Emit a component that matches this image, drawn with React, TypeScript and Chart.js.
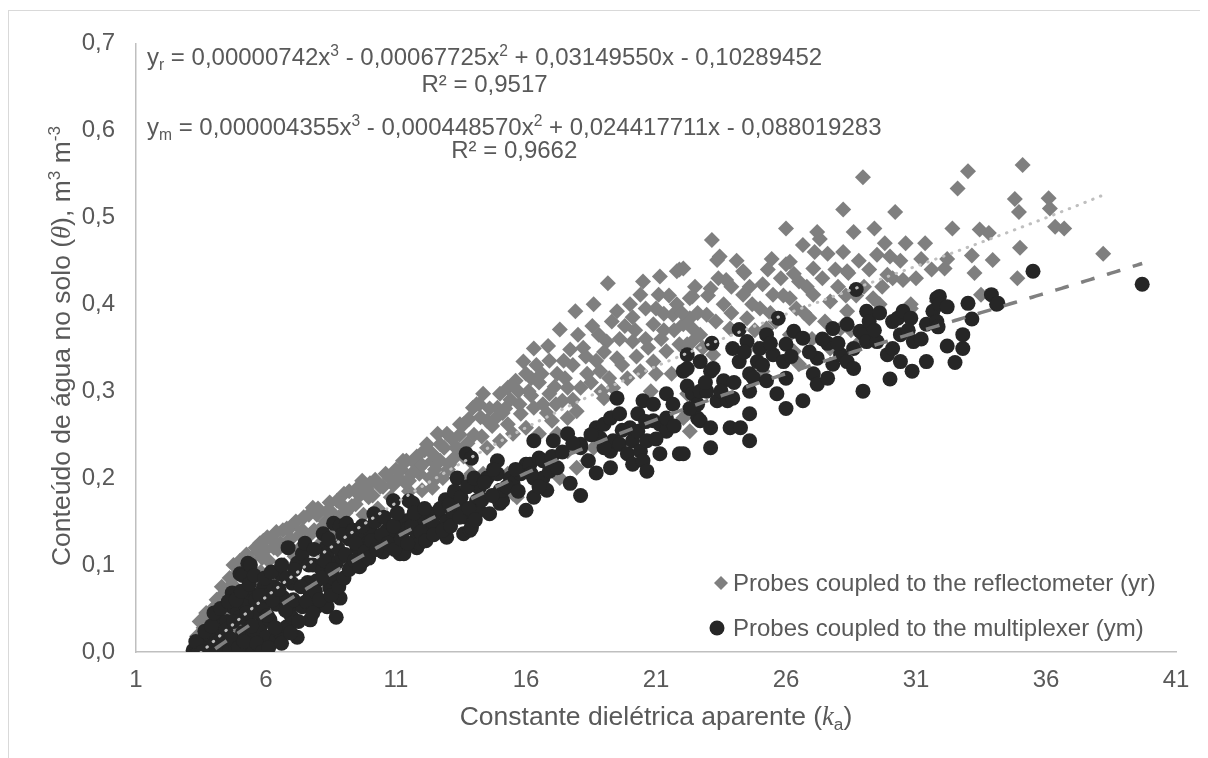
import React, { useEffect, useRef } from 'react';
import { Chart, registerables } from 'chart.js';

Chart.register(...registerables);

const FONT = '"Liberation Sans", Arial, Helvetica, sans-serif';
const MATH_FONT = '"Liberation Serif", "DejaVu Serif", serif';
const TEXT = '#595959';

const xTicks = [1, 6, 11, 16, 21, 26, 31, 36, 41];
const yTicks = [0, 0.1, 0.2, 0.3, 0.4, 0.5, 0.6, 0.7];

// Probes coupled to the reflectometer (yr): [ka, theta]
const reflectometerLow: [number, number][] = [
  [3.25, 0.004], [3.35, 0.018], [3.5, 0.008], [3.6, 0.028], [3.75, 0.015], [3.9, 0.04], [3.96, 0.05],
  [4.05, 0.022], [4.2, 0.058], [4.25, 0.035], [4.4, 0.068], [4.45, 0.012], [4.55, 0.045], [4.7, 0.078],
  [4.8, 0.03], [4.88, 0.09], [4.95, 0.058], [5.1, 0.098], [5.2, 0.07], [5.3, 0.04], [5.4, 0.106],
  [5.5, 0.082], [5.65, 0.005], [5.7, 0.115], [5.77, 0.125], [5.8, 0.092], [5.9, 0.128], [5.95, 0.06],
  [6.1, 0.105], [6.2, 0.13], [6.35, 0.085], [6.45, 0.118], [6.65, 0.14], [6.7, 0.1], [6.85, 0.128],
  [7.0, 0.145], [7.1, 0.11], [7.3, 0.135], [7.45, 0.155], [7.55, 0.12], [7.8, 0.166], [7.85, 0.14],
  [7.96, 0.158], [8.1, 0.125], [8.3, 0.15], [8.45, 0.172], [8.6, 0.135], [8.73, 0.174], [8.8, 0.155],
  [9.0, 0.182], [9.1, 0.145], [9.3, 0.168], [9.5, 0.188], [9.7, 0.197], [9.75, 0.158], [9.95, 0.178],
  [10.0, 0.194], [10.3, 0.165], [10.4, 0.19], [10.6, 0.205], [10.8, 0.178], [11.0, 0.21], [11.27, 0.22],
  [11.35, 0.195], [11.5, 0.185], [11.7, 0.218], [11.9, 0.205], [12.1, 0.232], [12.19, 0.239], [12.3, 0.2],
  [12.6, 0.251], [12.7, 0.22], [12.96, 0.251], [13.0, 0.21], [13.3, 0.235], [13.6, 0.262], [13.6, 0.225],
];
const reflectometerMid: [number, number][] = [
  [11.4, 0.22], [11.5, 0.197], [11.9, 0.212], [12.0, 0.186], [12.4, 0.22], [12.4, 0.189], [12.55, 0.2],
  [12.7, 0.239], [12.8, 0.2], [13.05, 0.216], [13.2, 0.182], [13.35, 0.235], [13.46, 0.262], [13.7, 0.197],
  [13.85, 0.22], [13.9, 0.205], [13.96, 0.281], [14.0, 0.25], [14.1, 0.285], [14.2, 0.285], [14.35, 0.297],
  [14.35, 0.205], [14.5, 0.266], [14.5, 0.235], [14.7, 0.26], [14.9, 0.281], [14.9, 0.174], [15.0, 0.297],
  [15.0, 0.243], [15.2, 0.28], [15.3, 0.304], [15.3, 0.262], [15.3, 0.205], [15.5, 0.251], [15.5, 0.182],
  [15.6, 0.312], [15.65, 0.178], [15.8, 0.274], [15.9, 0.334], [16.0, 0.258], [16.1, 0.3], [16.2, 0.315],
  [16.3, 0.349], [16.3, 0.281], [16.5, 0.251], [16.6, 0.32], [16.65, 0.285], [16.7, 0.22], [16.85, 0.352],
  [16.9, 0.297], [17.0, 0.266], [17.2, 0.251], [17.2, 0.32], [17.3, 0.371], [17.3, 0.2], [17.4, 0.289],
  [17.6, 0.304], [17.6, 0.269], [17.6, 0.231], [17.7, 0.348], [17.8, 0.33], [17.9, 0.392], [17.95, 0.277],
  [17.95, 0.212], [18.1, 0.304], [18.3, 0.34], [18.35, 0.32], [18.35, 0.22], [18.6, 0.4], [18.6, 0.235],
  [18.8, 0.365], [18.85, 0.323], [18.9, 0.3], [19.0, 0.292], [19.1, 0.357], [19.15, 0.424], [19.3, 0.27],
  [19.35, 0.304], [19.5, 0.392], [19.5, 0.338], [19.6, 0.36], [19.9, 0.315], [20.0, 0.4], [20.1, 0.357],
  [20.2, 0.37], [20.4, 0.411], [20.4, 0.323], [20.5, 0.426], [20.7, 0.35], [20.8, 0.3], [20.9, 0.377],
  [20.9, 0.334], [21.1, 0.411], [21.15, 0.432], [21.2, 0.36], [21.3, 0.389], [21.4, 0.346], [21.5, 0.41],
  [21.6, 0.32], [21.65, 0.388], [21.8, 0.438], [21.9, 0.354], [21.9, 0.44], [22.05, 0.441], [22.05, 0.377],
  [22.05, 0.269], [22.3, 0.407], [22.3, 0.254], [22.4, 0.372], [22.4, 0.357],
];
const reflectometerHigh: [number, number][] = [
  [22.2, 0.354], [22.2, 0.297], [22.2, 0.274], [22.3, 0.384], [22.3, 0.297], [22.4, 0.409], [22.7, 0.365],
  [22.95, 0.388], [23.0, 0.41], [23.1, 0.418], [23.15, 0.474], [23.2, 0.342], [23.35, 0.451], [23.45, 0.455],
  [23.6, 0.4], [23.7, 0.428], [23.85, 0.372], [23.9, 0.42], [24.35, 0.438], [24.35, 0.411], [24.4, 0.436],
  [24.5, 0.384], [24.7, 0.4], [24.9, 0.349], [25.0, 0.395], [25.1, 0.423], [25.1, 0.323], [25.25, 0.372],
  [25.45, 0.452], [25.5, 0.411], [25.6, 0.38], [25.8, 0.43], [26.0, 0.487], [26.0, 0.446], [26.15, 0.449],
  [26.15, 0.407], [26.15, 0.365], [26.3, 0.346], [26.4, 0.395], [26.5, 0.426], [26.5, 0.331], [26.65, 0.468],
  [26.8, 0.42], [26.9, 0.384], [27.0, 0.36], [27.05, 0.441], [27.05, 0.411], [27.2, 0.483], [27.3, 0.475],
  [27.4, 0.43], [27.6, 0.458], [27.7, 0.403], [27.7, 0.349], [28.0, 0.42], [28.1, 0.372], [28.2, 0.509],
  [28.2, 0.46], [28.35, 0.438], [28.35, 0.392], [28.4, 0.436], [28.5, 0.37], [28.6, 0.483], [28.7, 0.41],
  [28.85, 0.357], [28.96, 0.546], [29.2, 0.44], [29.35, 0.407], [29.4, 0.487], [29.5, 0.457], [29.6, 0.4],
  [29.8, 0.47], [29.9, 0.434], [30.1, 0.43], [30.2, 0.506], [30.4, 0.45], [30.5, 0.428], [30.8, 0.4],
  [30.8, 0.395], [31.2, 0.452], [31.35, 0.47], [31.8, 0.403], [32.1, 0.441], [32.2, 0.452], [32.4, 0.487],
  [32.6, 0.533], [33.0, 0.553], [33.15, 0.456], [33.25, 0.436], [33.45, 0.486], [33.5, 0.411], [33.8, 0.482],
  [33.95, 0.451], [34.8, 0.521], [34.9, 0.43], [34.96, 0.506], [35.0, 0.465], [35.1, 0.56], [36.1, 0.522],
  [36.15, 0.51], [36.35, 0.489], [36.7, 0.487], [38.2, 0.458],
];
const reflectometerDense: [number, number][] = [
  [3.45, 0.035], [3.7, 0.045], [4.1, 0.06], [4.3, 0.075], [4.6, 0.085], [4.75, 0.1], [5.0, 0.105],
  [5.25, 0.112], [5.35, 0.09], [5.6, 0.12], [5.85, 0.108], [6.0, 0.118], [6.05, 0.132], [6.3, 0.12],
  [6.4, 0.138], [6.55, 0.125], [6.8, 0.142], [6.95, 0.13], [7.15, 0.15], [7.25, 0.118], [7.4, 0.14],
  [7.65, 0.158], [7.7, 0.135], [8.0, 0.165], [8.2, 0.145], [8.35, 0.162], [8.55, 0.16], [8.9, 0.17],
  [9.05, 0.16], [9.2, 0.185], [9.45, 0.17], [9.6, 0.18], [9.85, 0.188], [10.1, 0.18], [10.2, 0.198],
  [10.5, 0.19], [10.75, 0.2], [10.9, 0.192], [11.1, 0.2], [11.2, 0.21], [11.6, 0.205], [11.8, 0.225],
  [12.0, 0.215], [12.4, 0.228], [12.5, 0.21], [12.85, 0.235], [13.15, 0.245], [13.2, 0.222], [13.45, 0.25],
  [13.75, 0.24], [13.8, 0.268], [14.25, 0.27], [14.3, 0.248], [14.6, 0.28], [14.8, 0.268], [15.1, 0.275],
  [15.4, 0.29], [15.7, 0.3], [15.75, 0.285], [16.0, 0.32], [16.2, 0.295], [16.4, 0.33], [16.5, 0.31],
  [16.8, 0.275], [16.9, 0.335], [17.1, 0.305], [17.15, 0.285], [17.45, 0.335], [17.5, 0.315], [17.8, 0.29],
  [18.0, 0.365], [18.2, 0.35], [18.5, 0.31], [18.55, 0.375], [18.7, 0.335], [19.0, 0.345], [19.2, 0.315],
  [19.3, 0.38], [19.7, 0.33], [19.8, 0.375], [20.1, 0.385], [20.25, 0.34], [20.6, 0.395], [20.6, 0.36],
  [21.0, 0.32], [21.0, 0.395], [21.3, 0.37], [21.7, 0.37], [21.8, 0.4], [22.0, 0.39], [22.5, 0.42],
  [22.6, 0.39], [22.8, 0.35], [23.3, 0.38], [23.4, 0.43], [23.9, 0.39], [24.1, 0.45], [24.6, 0.42],
  [24.8, 0.37], [25.3, 0.44], [25.4, 0.39], [25.9, 0.41], [26.3, 0.435], [26.7, 0.39], [27.1, 0.46],
  [27.5, 0.38], [27.9, 0.44], [28.3, 0.41], [28.8, 0.45], [29.0, 0.42], [29.7, 0.42], [30.0, 0.455],
  [30.6, 0.47], [31.0, 0.43], [31.6, 0.44],
];

// Probes coupled to the multiplexer (ym): [ka, theta]
const multiplexerLow: [number, number][] = [
  [3.2, 0.002], [3.35, 0.006], [3.4, 0.0], [3.5, 0.01], [3.6, 0.014], [3.7, 0.004], [3.8, 0.02], [3.85, 0.002],
  [3.96, 0.022], [4.0, 0.008], [4.1, 0.029], [4.1, 0.0], [4.2, 0.037], [4.3, 0.025], [4.35, 0.014], [4.4, 0.004],
  [4.5, 0.035], [4.6, 0.002], [4.7, 0.068], [4.7, 0.052], [4.8, 0.01], [4.9, 0.045], [5.0, 0.04], [5.0, 0.09],
  [5.1, 0.088], [5.1, 0.022], [5.1, 0.0], [5.2, 0.055], [5.3, 0.102], [5.3, 0.035], [5.4, 0.1], [5.4, 0.068],
  [5.5, 0.006], [5.5, 0.02], [5.6, 0.06], [5.7, 0.045], [5.8, 0.03], [5.9, 0.074], [5.9, 0.052], [6.0, 0.017],
  [6.0, 0.065], [6.15, 0.037], [6.3, 0.075], [6.4, 0.014], [6.4, 0.055], [6.55, 0.09], [6.55, 0.022],
  [6.65, 0.063], [6.8, 0.029], [6.85, 0.12], [6.9, 0.045], [7.0, 0.079], [7.0, 0.04], [7.2, 0.102], [7.2, 0.017],
  [7.3, 0.055], [7.4, 0.113], [7.4, 0.052], [7.6, 0.08], [7.7, 0.068], [7.7, 0.037], [7.8, 0.1], [7.95, 0.082],
  [7.95, 0.052], [8.1, 0.097], [8.2, 0.136], [8.3, 0.12], [8.35, 0.113], [8.35, 0.052], [8.45, 0.074],
  [8.6, 0.148], [8.6, 0.085], [8.7, 0.102], [8.7, 0.04], [8.85, 0.145], [8.85, 0.062], [8.9, 0.11], [9.1, 0.148],
  [9.2, 0.13], [9.25, 0.097], [9.5, 0.12], [9.6, 0.135], [9.75, 0.105], [9.9, 0.125], [10.0, 0.14],
  [10.15, 0.159], [10.3, 0.13], [10.4, 0.12], [10.5, 0.115], [10.65, 0.14], [10.8, 0.135], [10.9, 0.174],
  [11.15, 0.151], [11.15, 0.113], [11.3, 0.14], [11.3, 0.113], [11.4, 0.151], [11.5, 0.143], [11.5, 0.174],
  [11.65, 0.171], [11.8, 0.12], [11.8, 0.136], [11.9, 0.151], [11.9, 0.125], [12.05, 0.151], [12.2, 0.145],
  [12.3, 0.159], [12.55, 0.14], [12.55, 0.159], [12.6, 0.143], [12.9, 0.175], [12.95, 0.132], [12.96, 0.151],
  [13.2, 0.159], [13.35, 0.2], [13.35, 0.174], [13.6, 0.166], [13.6, 0.136], [13.7, 0.228], [13.7, 0.155],
  [13.85, 0.14], [13.9, 0.223], [13.9, 0.143],
];
const multiplexerMid: [number, number][] = [
  [14.1, 0.174], [14.2, 0.189], [14.2, 0.163], [14.5, 0.2], [14.6, 0.159], [14.9, 0.205], [14.9, 0.22],
  [15.0, 0.186], [15.0, 0.171], [15.1, 0.174], [15.1, 0.186], [15.4, 0.2], [15.5, 0.194], [15.8, 0.205],
  [16.0, 0.216], [16.0, 0.163], [16.15, 0.216], [16.3, 0.243], [16.3, 0.2], [16.3, 0.178], [16.5, 0.223],
  [16.65, 0.22], [16.65, 0.2], [16.8, 0.186], [16.9, 0.208], [17.05, 0.243], [17.2, 0.212], [17.6, 0.251],
  [17.7, 0.194], [18.1, 0.239], [18.1, 0.235], [18.1, 0.18], [18.7, 0.258], [18.7, 0.206], [18.85, 0.246],
  [19.0, 0.262], [19.25, 0.269], [19.25, 0.212], [19.25, 0.231], [19.35, 0.243], [19.5, 0.292], [19.6, 0.274],
  [19.6, 0.239], [19.9, 0.228], [20.0, 0.258], [20.1, 0.243], [20.1, 0.216], [20.3, 0.274], [20.3, 0.254],
  [20.4, 0.231], [20.5, 0.289], [20.5, 0.22], [20.65, 0.208], [20.65, 0.243], [20.9, 0.285], [20.9, 0.266],
  [21.15, 0.262], [21.15, 0.228], [21.4, 0.297], [21.4, 0.254], [21.4, 0.269], [21.65, 0.285], [21.9, 0.228],
];
const multiplexerHigh: [number, number][] = [
  [22.05, 0.323], [22.05, 0.228], [22.2, 0.342], [22.2, 0.306], [22.2, 0.326], [22.4, 0.297], [22.6, 0.269],
  [22.6, 0.285], [22.7, 0.3], [22.7, 0.334], [22.7, 0.266], [22.95, 0.3], [23.1, 0.323], [23.1, 0.258],
  [23.1, 0.235], [23.15, 0.355], [23.2, 0.326], [23.35, 0.289], [23.6, 0.312], [23.75, 0.289], [23.85, 0.258],
  [23.95, 0.349], [23.95, 0.292], [24.2, 0.371], [24.2, 0.334], [24.25, 0.258], [24.5, 0.357], [24.6, 0.32],
  [24.6, 0.3], [24.6, 0.274], [24.6, 0.243], [24.75, 0.315], [24.9, 0.334], [25.0, 0.349], [25.25, 0.312],
  [25.25, 0.365], [25.5, 0.342], [25.65, 0.297], [25.7, 0.384], [25.9, 0.334], [26.0, 0.354], [26.0, 0.315],
  [26.0, 0.28], [26.3, 0.369], [26.65, 0.361], [26.65, 0.289], [27.05, 0.32], [27.2, 0.338], [27.2, 0.308],
  [27.6, 0.355], [27.6, 0.315], [27.8, 0.372], [27.8, 0.331], [28.1, 0.342], [28.35, 0.377], [28.35, 0.334],
  [28.6, 0.349], [28.6, 0.326], [28.7, 0.417], [28.85, 0.369], [28.96, 0.3], [29.0, 0.365], [29.1, 0.392],
  [29.1, 0.357], [29.2, 0.38], [29.5, 0.357], [29.6, 0.39], [29.9, 0.342], [30.0, 0.314], [30.1, 0.38],
  [30.1, 0.349], [30.3, 0.384], [30.4, 0.365], [30.4, 0.334], [30.5, 0.392], [30.8, 0.384], [30.85, 0.323],
  [30.9, 0.357], [31.4, 0.334], [31.4, 0.377], [31.65, 0.392], [31.8, 0.407], [31.8, 0.38], [31.85, 0.374],
  [31.9, 0.409], [31.9, 0.4], [32.2, 0.397], [32.2, 0.352], [32.5, 0.333], [32.8, 0.365], [32.8, 0.349],
  [33.0, 0.401], [33.15, 0.383], [33.9, 0.411], [34.1, 0.4], [34.15, 0.401], [35.5, 0.438], [39.7, 0.423],
];
const multiplexerDense: [number, number][] = [
  [3.3, 0.012], [3.55, 0.0], [3.65, 0.024], [3.9, 0.03], [4.0, 0.045], [4.2, 0.012], [4.25, 0.05],
  [4.45, 0.025], [4.55, 0.058], [4.65, 0.015], [4.75, 0.035], [4.85, 0.06], [4.95, 0.005], [5.05, 0.07],
  [5.15, 0.012], [5.25, 0.045], [5.35, 0.078], [5.45, 0.03], [5.55, 0.088], [5.65, 0.01], [5.75, 0.065],
  [5.85, 0.0], [5.95, 0.085], [6.05, 0.042], [6.1, 0.005], [6.2, 0.092], [6.25, 0.06], [6.35, 0.028],
  [6.5, 0.072], [6.6, 0.01], [6.6, 0.1], [6.75, 0.048], [6.8, 0.085], [6.95, 0.022], [7.05, 0.06],
  [7.1, 0.095], [7.25, 0.035], [7.35, 0.075], [7.5, 0.125], [7.55, 0.058], [7.65, 0.1], [7.8, 0.045],
  [7.85, 0.118], [7.9, 0.07], [8.05, 0.06], [8.15, 0.085], [8.25, 0.105], [8.4, 0.13], [8.5, 0.065],
  [8.55, 0.095], [8.75, 0.12], [8.8, 0.075], [8.95, 0.135], [9.0, 0.085], [9.05, 0.112], [9.2, 0.095],
  [9.35, 0.14], [9.4, 0.105], [9.45, 0.125], [9.6, 0.098], [9.7, 0.145], [9.8, 0.115], [9.95, 0.108],
  [10.05, 0.128], [10.2, 0.15], [10.25, 0.118], [10.45, 0.135], [10.55, 0.155], [10.7, 0.125], [10.9, 0.145],
  [10.95, 0.118], [11.05, 0.16], [11.2, 0.13], [11.45, 0.125], [11.6, 0.145], [11.7, 0.16], [11.95, 0.138],
  [12.1, 0.165], [12.15, 0.128], [12.4, 0.15], [12.45, 0.135], [12.7, 0.165], [12.8, 0.14], [13.05, 0.17],
  [13.1, 0.145], [13.25, 0.185], [13.45, 0.155], [13.5, 0.178], [13.75, 0.19], [13.8, 0.165], [14.0, 0.2],
  [14.05, 0.152], [14.3, 0.175], [14.4, 0.195], [14.7, 0.18], [14.75, 0.21], [15.25, 0.19], [15.6, 0.21],
  [15.7, 0.185], [16.2, 0.205], [16.5, 0.19], [17.0, 0.225], [17.4, 0.23], [17.8, 0.24], [18.4, 0.22],
  [18.5, 0.25], [19.0, 0.235], [19.7, 0.255], [20.6, 0.265], [21.0, 0.245], [21.7, 0.26], [22.3, 0.28],
  [22.9, 0.31], [23.5, 0.3], [24.0, 0.31], [24.4, 0.345], [25.1, 0.33], [25.4, 0.355], [26.2, 0.34],
  [26.9, 0.345], [27.4, 0.36], [28.0, 0.355], [29.4, 0.37], [30.7, 0.37], [31.2, 0.36],
];

const reflectometerPoints = [...reflectometerLow, ...reflectometerMid, ...reflectometerHigh, ...reflectometerDense];
const multiplexerPoints = [...multiplexerLow, ...multiplexerMid, ...multiplexerHigh, ...multiplexerDense];

// Trendline coefficients (x^3, x^2, x, 1) as printed on the chart
const yrCoefficients = [0.00000742, -0.00067725, 0.0314955, -0.10289452];
const ymCoefficients = [0.000004355, -0.00044857, 0.024417711, -0.088019283];

const legendLabels = ['Probes coupled to the reflectometer (yr)', 'Probes coupled to the multiplexer (ym)'];

type Seg = { t: string; sup?: boolean; sub?: boolean; it?: boolean };

const eqR: Seg[] = [
  { t: 'y' }, { t: 'r', sub: true }, { t: ' = 0,00000742x' }, { t: '3', sup: true },
  { t: ' - 0,00067725x' }, { t: '2', sup: true }, { t: ' + 0,03149550x - 0,10289452' },
];
const eqM: Seg[] = [
  { t: 'y' }, { t: 'm', sub: true }, { t: ' = 0,000004355x' }, { t: '3', sup: true },
  { t: ' - 0,000448570x' }, { t: '2', sup: true }, { t: ' + 0,024417711x - 0,088019283' },
];
const r2R = 'R² = 0,9517';
const r2M = 'R² = 0,9662';
const yTitle: Seg[] = [
  { t: 'Conteúdo de água no solo (' }, { t: 'θ', it: true }, { t: '), m' }, { t: '3', sup: true },
  { t: ' m' }, { t: '-3', sup: true },
];
const xTitle: Seg[] = [
  { t: 'Constante dielétrica aparente (' }, { t: 'k', it: true }, { t: 'a', sub: true }, { t: ')' },
];

function segFont(s: Seg, size: number) {
  const sz = s.sup || s.sub ? size * 0.65 : size;
  return s.it ? `italic ${sz}px ${MATH_FONT}` : `${sz}px ${FONT}`;
}
function measureRich(ctx: CanvasRenderingContext2D, segs: Seg[], size: number) {
  let w = 0;
  for (const s of segs) {
    ctx.font = segFont(s, size);
    w += ctx.measureText(s.t).width;
  }
  return w;
}
function drawRich(ctx: CanvasRenderingContext2D, segs: Seg[], x: number, y: number, size: number, align: 'left' | 'center') {
  let cx = align === 'center' ? x - measureRich(ctx, segs, size) / 2 : x;
  ctx.textAlign = 'left';
  ctx.textBaseline = 'alphabetic';
  for (const s of segs) {
    ctx.font = segFont(s, size);
    const dy = s.sup ? -size * 0.36 : s.sub ? size * 0.2 : 0;
    ctx.fillText(s.t, cx, y + dy);
    cx += ctx.measureText(s.t).width;
  }
}

function trendPoints(c: number[], x0: number, x1: number) {
  const pts: { x: number; y: number }[] = [];
  for (let x = x0; x <= x1 + 1e-9; x += 0.1) {
    pts.push({ x, y: c[0] * x * x * x + c[1] * x * x + c[2] * x + c[3] });
  }
  return pts;
}

const overlayPlugin = {
  id: 'overlay',
  afterDraw(chart: any) {
    const ctx: CanvasRenderingContext2D = chart.ctx;
    ctx.save();
    ctx.fillStyle = TEXT;
    const w1 = measureRich(ctx, eqR, 24);
    drawRich(ctx, eqR, 139, 57, 24, 'left');
    ctx.font = `24px ${FONT}`;
    ctx.textAlign = 'center';
    ctx.textBaseline = 'alphabetic';
    ctx.fillText(r2R, 139 + w1 / 2, 84);
    const w2 = measureRich(ctx, eqM, 24);
    drawRich(ctx, eqM, 139, 127, 24, 'left');
    ctx.font = `24px ${FONT}`;
    ctx.textAlign = 'center';
    ctx.fillText(r2M, 139 + w2 / 2, 150);
    drawRich(ctx, xTitle, 648, 717, 26.5, 'center');
    ctx.save();
    ctx.translate(62, 338);
    ctx.rotate(-Math.PI / 2);
    drawRich(ctx, yTitle, 0, 0, 26.5, 'center');
    ctx.restore();
    // legend
    ctx.fillStyle = '#7F7F7F';
    ctx.beginPath();
    ctx.moveTo(713, 568);
    ctx.lineTo(720, 575);
    ctx.lineTo(713, 582);
    ctx.lineTo(706, 575);
    ctx.closePath();
    ctx.fill();
    ctx.fillStyle = '#262626';
    ctx.beginPath();
    ctx.arc(709, 620, 7.5, 0, Math.PI * 2);
    ctx.fill();
    ctx.fillStyle = TEXT;
    ctx.font = `24px ${FONT}`;
    ctx.textAlign = 'left';
    ctx.textBaseline = 'middle';
    ctx.fillText(legendLabels[0], 725, 576);
    ctx.fillText(legendLabels[1], 725, 621);
    ctx.restore();
  },
};

export default function App() {
  const ref = useRef<HTMLCanvasElement>(null);
  useEffect(() => {
    if (!ref.current) return;
    const rMin = Math.min(...reflectometerPoints.map((p) => p[0]));
    const rMax = Math.max(...reflectometerPoints.map((p) => p[0]));
    const mMin = Math.min(...multiplexerPoints.map((p) => p[0]));
    const mMax = Math.max(...multiplexerPoints.map((p) => p[0]));
    const chart = new Chart(ref.current, {
      type: 'scatter',
      data: {
        datasets: [
          {
            type: 'line',
            label: 'yr trend',
            data: trendPoints(yrCoefficients, rMin, rMax),
            borderColor: '#BFBFBF',
            borderWidth: 3,
            borderDash: [0.5, 7.9],
            borderCapStyle: 'round',
            pointRadius: 0,
            fill: false,
            tension: 0,
            order: 0,
            clip: 0,
          } as any,
          {
            type: 'line',
            label: 'ym trend',
            data: trendPoints(ymCoefficients, mMin, mMax),
            borderColor: '#808080',
            borderWidth: 3.5,
            borderDash: [14, 13],
            pointRadius: 0,
            fill: false,
            tension: 0,
            order: 0,
            clip: 0,
          } as any,
          {
            label: legendLabels[1],
            data: multiplexerPoints.map(([x, y]) => ({ x, y })),
            pointStyle: 'circle',
            pointRadius: 7.5,
            pointBorderWidth: 0,
            backgroundColor: '#262626',
            borderColor: '#262626',
            order: 1,
          },
          {
            label: legendLabels[0],
            data: reflectometerPoints.map(([x, y]) => ({ x, y })),
            pointStyle: 'rectRot',
            pointRadius: 8,
            pointBorderWidth: 0,
            backgroundColor: '#7F7F7F',
            borderColor: '#7F7F7F',
            order: 2,
          },
        ],
      },
      options: {
        animation: false,
        responsive: false,
        devicePixelRatio: 1,
        events: [],
        layout: { padding: { left: 0, top: 33, right: 32, bottom: 0 } },
        plugins: { legend: { display: false }, tooltip: { enabled: false } },
        scales: {
          x: {
            type: 'linear',
            min: 1,
            max: 41,
            afterBuildTicks: (axis: any) => {
              axis.ticks = xTicks.map((v) => ({ value: v }));
            },
            afterFit: (axis: any) => {
              axis.height = 106;
            },
            grid: { display: false, drawTicks: false },
            border: { display: true, color: '#BFBFBF', width: 1.5 },
            ticks: {
              color: TEXT,
              font: { family: FONT, size: 24 },
              padding: 14,
              maxRotation: 0,
              autoSkip: false,
              callback: (v: any) => String(v),
            },
          },
          y: {
            type: 'linear',
            min: 0,
            max: 0.7,
            afterBuildTicks: (axis: any) => {
              axis.ticks = yTicks.map((v) => ({ value: v }));
            },
            afterFit: (axis: any) => {
              axis.width = 128;
            },
            grid: { display: false, drawTicks: false },
            border: { display: true, color: '#BFBFBF', width: 1.5 },
            ticks: {
              color: TEXT,
              font: { family: FONT, size: 24 },
              padding: 21,
              autoSkip: false,
              callback: (v: any) => Number(v).toFixed(1).replace('.', ','),
            },
          },
        },
      },
      plugins: [overlayPlugin],
    } as any);
    return () => chart.destroy();
  }, []);

  return (
    <div style={{ position: 'relative', width: 1200, height: 750 }}>
      <div
        style={{
          position: 'absolute',
          left: 0,
          top: 2,
          right: 0,
          bottom: 0,
          borderLeft: '1px solid #D9D9D9',
          borderTop: '1px solid #D9D9D9',
        }}
      />
      <canvas ref={ref} width={1200} height={750} style={{ position: 'absolute', left: 0, top: 0 }} />
    </div>
  );
}
